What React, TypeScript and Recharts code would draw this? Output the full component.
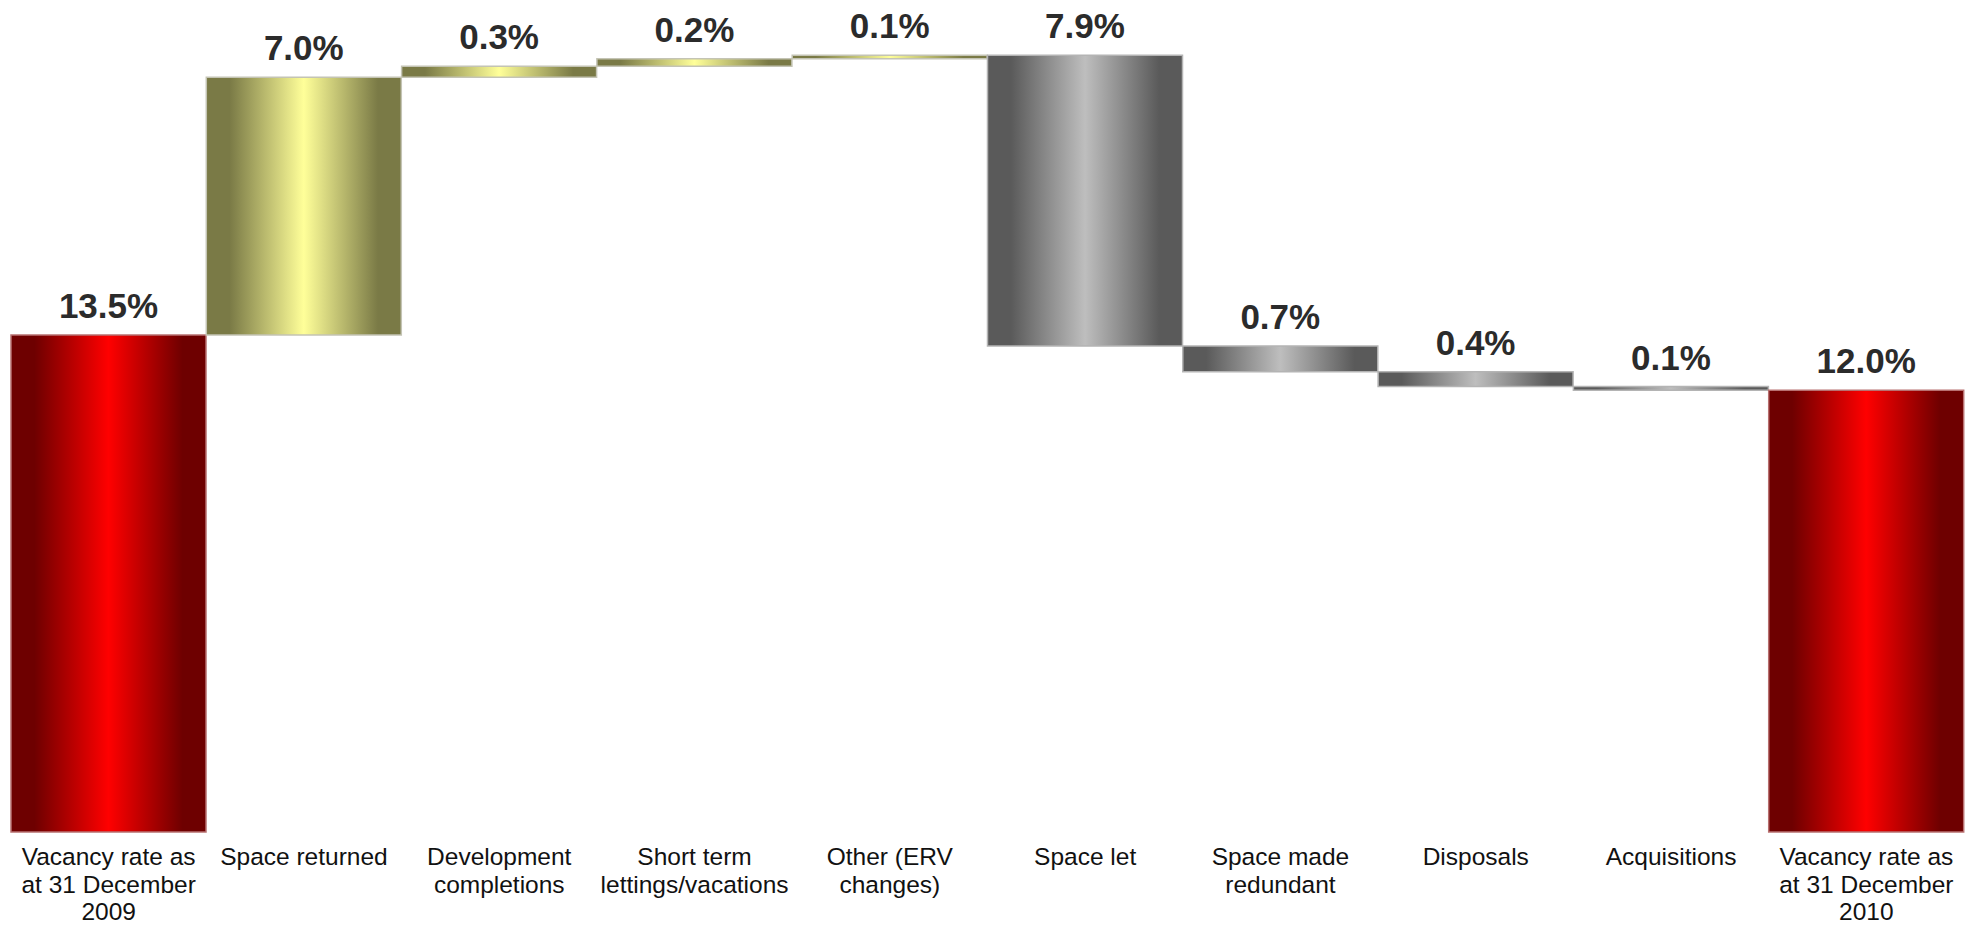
import { Bar, BarChart, Cell, LabelList, XAxis, YAxis } from "recharts";

// Vacancy rate bridge, 31 Dec 2009 -> 31 Dec 2010 (% of ERV)
const CATEGORIES = [
  "Vacancy rate as at 31 December 2009",
  "Space returned",
  "Development completions",
  "Short term lettings/vacations",
  "Other (ERV changes)",
  "Space let",
  "Space made redundant",
  "Disposals",
  "Acquisitions",
  "Vacancy rate as at 31 December 2010",
];

// how each category label breaks over lines under the axis
const TICK_LINES: string[][] = [
  ["Vacancy rate as", "at 31 December", "2009"],
  ["Space returned"],
  ["Development", "completions"],
  ["Short term", "lettings/vacations"],
  ["Other (ERV", "changes)"],
  ["Space let"],
  ["Space made", "redundant"],
  ["Disposals"],
  ["Acquisitions"],
  ["Vacancy rate as", "at 31 December", "2010"],
];

const CHANGES = [13.5, 7.0, 0.3, 0.2, 0.1, -7.9, -0.7, -0.4, -0.1, 12.0];
const KINDS = ["total", "up", "up", "up", "up", "down", "down", "down", "down", "total"];

const GRADIENT_ID: Record<string, string> = {
  total: "gradRed",
  up: "gradYellow",
  down: "gradGrey",
};
const STROKE: Record<string, string> = {
  total: "#b87070",
  up: "#c4c4b4",
  down: "#b4b4b4",
};

// floating bars: invisible base + visible step
let running = 0;
const rows = CATEGORIES.map((name, i) => {
  const v = CHANGES[i];
  const kind = KINDS[i];
  let base = 0;
  if (kind === "total") {
    running = v;
  } else if (v >= 0) {
    base = running;
    running += v;
  } else {
    running += v;
    base = running;
  }
  return { name, kind, base, step: Math.abs(v), label: `${Math.abs(v).toFixed(1)}%` };
});

function CategoryTick(props: any) {
  const { x, y, index } = props;
  const lines = TICK_LINES[index] ?? [];
  return (
    <text
      x={x}
      y={y}
      textAnchor="middle"
      fill="#111"
      fontSize={24.5}
      fontFamily="'Liberation Sans', Arial, sans-serif"
    >
      {lines.map((line, i) => (
        <tspan key={i} x={x} dy={i === 0 ? 25 : 27.5}>
          {line}
        </tspan>
      ))}
    </text>
  );
}

function gradient(id: string, edge: string, mid: string) {
  return (
    <linearGradient id={id} x1="0" y1="0" x2="1" y2="0">
      <stop offset="0%" stopColor={edge} />
      <stop offset="12%" stopColor={edge} />
      <stop offset="50%" stopColor={mid} />
      <stop offset="88%" stopColor={edge} />
      <stop offset="100%" stopColor={edge} />
    </linearGradient>
  );
}

export default function App() {
  return (
    <div style={{ position: "absolute", left: 0, top: 0, width: 1974, height: 927, background: "#fff" }}>
      <BarChart
        width={1974}
        height={927}
        data={rows}
        barCategoryGap={0}
        margin={{ top: 22, right: 10, left: 11, bottom: 0 }}
      >
        <defs>
          {gradient("gradRed", "#6e0000", "#ff0000")}
          {gradient("gradYellow", "#7a7a46", "#ffff99")}
          {gradient("gradGrey", "#5a5a5a", "#bebebe")}
        </defs>
        <XAxis
          dataKey="name"
          interval={0}
          axisLine={false}
          tickLine={false}
          height={95}
          tick={<CategoryTick />}
        />
        <YAxis hide domain={[0, 22]} />
        <Bar dataKey="base" stackId="w" fill="transparent" isAnimationActive={false} />
        <Bar dataKey="step" stackId="w" isAnimationActive={false}>
          {rows.map((r, i) => (
            <Cell key={i} fill={`url(#${GRADIENT_ID[r.kind]})`} stroke={STROKE[r.kind]} strokeWidth={1.5} />
          ))}
          <LabelList
            dataKey="label"
            position="top"
            offset={17}
            fill="#2b2b2b"
            fontSize={35}
            fontWeight="bold"
            fontFamily="'Liberation Sans', Arial, sans-serif"
          />
        </Bar>
      </BarChart>
    </div>
  );
}
